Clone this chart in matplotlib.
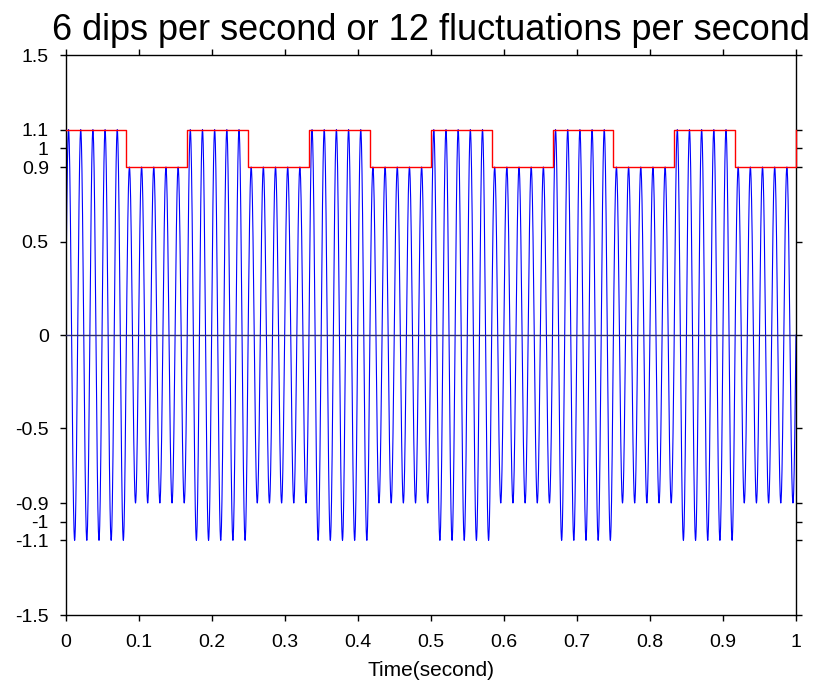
import numpy as np
import matplotlib
matplotlib.use("Agg")
import matplotlib.pyplot as plt

plt.rcParams['font.family'] = ['Liberation Sans', 'DejaVu Sans']

# ---- data ----
carrier_hz = 60                       # ~6 cycles per 0.1 s
dips_per_second = 6
env_edges = [0, 1/12, 2/12, 3/12, 4/12, 5/12, 6/12, 7/12, 8/12, 9/12, 10/12, 11/12, 1]
env_levels = [1.1, 0.9, 1.1, 0.9, 1.1, 0.9, 1.1, 0.9, 1.1, 0.9, 1.1, 0.9, 1.1]
sample_rate = 6000

x_ticks = [0, 0.1, 0.2, 0.3, 0.4, 0.5, 0.6, 0.7, 0.8, 0.9, 1]
x_labels = ['0', '0.1', '0.2', '0.3', '0.4', '0.5', '0.6', '0.7', '0.8', '0.9', '1']
y_ticks = [-1.5, -1.1, -1, -0.9, -0.5, 0, 0.5, 0.9, 1, 1.1, 1.5]
y_labels = ['-1.5', '-1.1', '-1', '-0.9', '-0.5', '0', '0.5', '0.9', '1', '1.1', '1.5']
title = '6 dips per second or 12 fluctuations per second'
xlabel = 'Time(second)'

# ---- build signal ----
t = np.arange(0, 1 + 1e-12, 1 / sample_rate)
idx = np.clip(np.searchsorted(env_edges, t, side='right') - 1, 0, len(env_levels) - 1)
env = np.asarray(env_levels)[idx]
sig = env * np.sin(2 * np.pi * carrier_hz * t)

fig = plt.figure(figsize=(8.16, 6.82), dpi=100)
ax = fig.add_axes([65.5/816, 1 - 615/682, (796 - 65.5)/816, (615 - 55)/682])

ax.plot(t, sig, color='#0000ff', lw=0.8, zorder=2)
ax.axhline(0, color='#30306a', lw=1.0, zorder=3)
ax.plot(env_edges, env_levels, drawstyle='steps-post', color='#ff0000', lw=1.0,
        zorder=4, clip_on=False)

ax.set_xlim(0, 1)
ax.set_ylim(-1.5, 1.5)
ax.set_xticks(x_ticks)
ax.set_xticklabels(x_labels)
ax.set_yticks(y_ticks)
ax.set_yticklabels(y_labels)
ax.tick_params(direction='out', length=4, width=1, labelsize=14,
               top=True, right=True)
ax.tick_params(axis='x', pad=10)
ax.tick_params(axis='y', pad=8)
for s in ax.spines.values():
    s.set_linewidth(1.0)
ax.set_xlabel(xlabel, fontsize=15, labelpad=7)
ax.set_title(title, fontsize=26, pad=11)

fig.savefig('out.png', dpi=100)
